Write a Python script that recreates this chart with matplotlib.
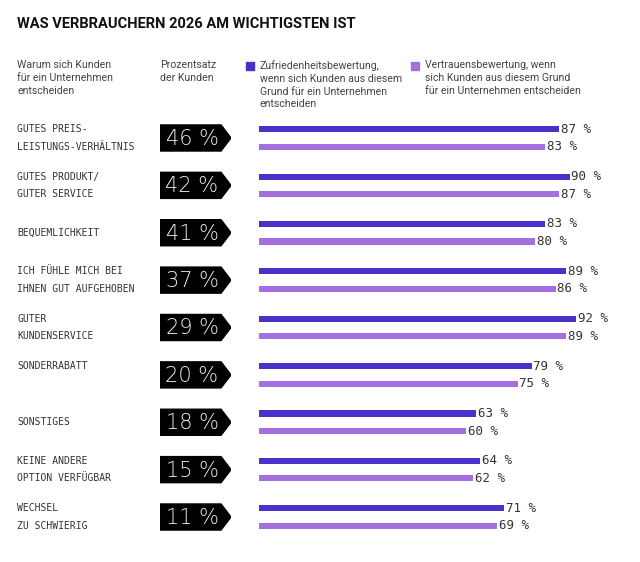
import matplotlib
matplotlib.use("Agg")
import matplotlib.pyplot as plt
import matplotlib.transforms as mtransforms
from matplotlib import font_manager
from matplotlib.patches import Polygon, Rectangle
import numpy as np

# data
reasons = [
    "GUTES PREIS-\nLEISTUNGS-VERHÄLTNIS",
    "GUTES PRODUKT/\nGUTER SERVICE",
    "BEQUEMLICHKEIT",
    "ICH FÜHLE MICH BEI\nIHNEN GUT AUFGEHOBEN",
    "GUTER\nKUNDENSERVICE",
    "SONDERRABATT\n",
    "SONSTIGES",
    "KEINE ANDERE\nOPTION VERFÜGBAR",
    "WECHSEL\nZU SCHWIERIG",
]
share = [46, 42, 41, 37, 29, 20, 18, 15, 11]
satisfaction = [87, 90, 83, 89, 92, 79, 63, 64, 71]
trust = [83, 87, 80, 86, 89, 75, 60, 62, 69]

title = "WAS VERBRAUCHERN 2026 AM WICHTIGSTEN IST"
head_reason = "Warum sich Kunden\nfür ein Unternehmen\nentscheiden"
head_share = "Prozentsatz\nder Kunden"
head_sat = "Zufriedenheitsbewertung,\nwenn sich Kunden aus diesem\nGrund für ein Unternehmen\nentscheiden"
head_trust = "Vertrauensbewertung, wenn\nsich Kunden aus diesem Grund\nfür ein Unternehmen entscheiden"

DARK = "#4b30c9"
LIGHT = "#a66fe0"
TEXT = "#333333"

fonts = font_manager.fontManager.ttflist
installed = {f.name for f in fonts}
narrow = "Liberation Sans Narrow" if "Liberation Sans Narrow" in installed else "Roboto"
MONO = "DejaVu Sans Mono"

# a thin face for the badge numbers, like the light mono of the original
badge_family, badge_weight = "Liberation Mono", "normal"
for fam, wt in [("DejaVu Sans", 200), ("Roboto", 300), ("Lato", 300),
                ("Inter", 300), ("Open Sans", 300)]:
    if any(f.name == fam and f.weight == wt for f in fonts):
        badge_family, badge_weight = fam, wt
        break

W, H = 640, 562
fig = plt.figure(figsize=(W / 100, H / 100), dpi=100)


def fx(px):
    return px / W


def fy(py):
    return 1 - py / H


# header
fig.text(fx(17), fy(24), title, fontsize=10.5, fontweight="bold",
         family=narrow, color="#111111", va="center")
head_kw = dict(fontsize=7.6, family=narrow, color="#444444", va="top",
               linespacing=1.35)
fig.text(fx(17), fy(60), head_reason, **head_kw)
fig.text(fx(160), fy(60), head_share, **head_kw)
fig.text(fx(260), fy(60), head_sat, **head_kw)
fig.text(fx(425), fy(60), head_trust, **head_kw)
fig.patches.append(Rectangle((fx(246), fy(70)), fx(8), 8 / H, color=DARK,
                             transform=fig.transFigure, figure=fig))
fig.patches.append(Rectangle((fx(411), fy(70)), fx(8), 8 / H, color=LIGHT,
                             transform=fig.transFigure, figure=fig))

# bars
n = len(reasons)
top, bottom = 114.3, 540.7
ax = fig.add_axes([fx(259), fy(bottom), 345 / W, (bottom - top) / H])
y = np.arange(n)
off = 0.185
bh = 0.13
ax.barh(y - off, satisfaction, height=bh, color=DARK)
ax.barh(y + off, trust, height=bh, color=LIGHT)
ax.set_xlim(0, 100)
ax.set_ylim(n - 0.5, -0.5)
ax.axis("off")

for i in range(n):
    ax.text(satisfaction[i] + 0.5, y[i] - off, f"{satisfaction[i]} %",
            family=MONO, fontsize=9, color=TEXT, va="center", ha="left")
    ax.text(trust[i] + 0.5, y[i] + off, f"{trust[i]} %",
            family=MONO, fontsize=9, color=TEXT, va="center", ha="left")

# reason labels on the left
trans = mtransforms.blended_transform_factory(fig.transFigure, ax.transData)
for i, label in enumerate(reasons):
    lines = label.split("\n")
    if len(lines) == 1:
        ax.text(fx(17), y[i], lines[0], transform=trans, family=MONO,
                fontsize=7, color=TEXT, va="center")
    else:
        ax.text(fx(17), y[i] - off, lines[0], transform=trans, family=MONO,
                fontsize=7, color=TEXT, va="center")
        ax.text(fx(17), y[i] + off, lines[1], transform=trans, family=MONO,
                fontsize=7, color=TEXT, va="center")

# black arrow badges with share of customers
bx = fig.add_axes([fx(160), fy(bottom), 71 / W, (bottom - top) / H])
bx.set_xlim(0, 1)
bx.set_ylim(n - 0.5, -0.5)
bx.axis("off")
half = 0.275
for i in range(n):
    verts = [(0, y[i] - half), (0.86, y[i] - half), (1, y[i]),
             (0.86, y[i] + half), (0, y[i] + half)]
    bx.add_patch(Polygon(verts, closed=True, color="black"))
    bx.text(0.45, y[i] + 0.02, f"{share[i]} %", family=badge_family,
            fontweight=badge_weight, fontsize=15, color="#eeeeee",
            ha="center", va="center")

fig.savefig("out.png", dpi=100)
